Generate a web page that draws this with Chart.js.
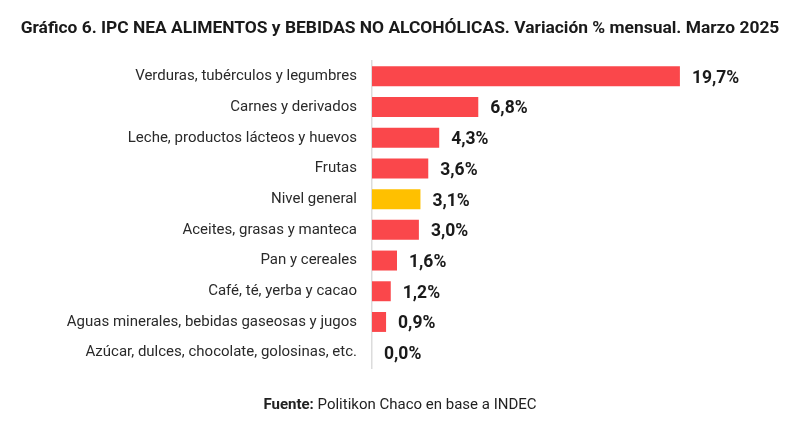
<!DOCTYPE html>
<html>
<head>
<meta charset="utf-8">
<script src="https://cdn.jsdelivr.net/npm/chart.js@4.4.1/dist/chart.umd.min.js"></script>
<style>
  html, body { margin: 0; padding: 0; background: #fff; }
  #wrap { position: relative; width: 800px; height: 428px; }
  #title { position: absolute; left: 0; top: 17px; width: 800px; text-align: center;
    font-family: Roboto, sans-serif; font-weight: bold; font-size: 17.4px; color: #1a1a1a; }
  #source { position: absolute; left: 0; top: 395px; width: 800px; text-align: center;
    font-family: Roboto, sans-serif; font-size: 15px; color: #222; }
</style>
</head>
<body>
<div id="wrap">
  <canvas id="myChart" width="800" height="428"></canvas>
  <div id="title">Gráfico 6. IPC NEA ALIMENTOS y BEBIDAS NO ALCOHÓLICAS. Variación % mensual. Marzo 2025</div>
  <div id="source"><b>Fuente:</b> Politikon Chaco en base a INDEC</div>
</div>
<script>
const categories = [
    "Verduras, tubérculos y legumbres",
    "Carnes y derivados",
    "Leche, productos lácteos y huevos",
    "Frutas",
    "Nivel general",
    "Aceites, grasas y manteca",
    "Pan y cereales",
    "Café, té, yerba y cacao",
    "Aguas minerales, bebidas gaseosas y jugos",
    "Azúcar, dulces, chocolate, golosinas, etc."
];
const values = [19.7, 6.8, 4.3, 3.6, 3.1, 3.0, 1.6, 1.2, 0.9, 0.0];

const red = "#fa474b";
const yellow = "#ffc000";

// colour each bar, the general level stands out
let barColors = categories.map(c => c == "Nivel general" ? yellow : red);

//draws "19,7%" next to each bar
const valueLabels = {
    id: 'valueLabels',
    afterDatasetsDraw(chart) {
        const ctx = chart.ctx;
        const meta = chart.getDatasetMeta(0);
        ctx.save();
        ctx.font = "bold 17.5px Roboto, sans-serif";
        ctx.fillStyle = "#1a1a1a";
        ctx.textBaseline = "middle";
        ctx.textAlign = "left";
        meta.data.forEach((bar, i) => {
            let txt = values[i].toFixed(1).replace(".", ",") + "%";
            ctx.fillText(txt, bar.x + 12, bar.y + 2);
        });
        ctx.restore();
    }
};

const chart = new Chart("myChart", {
    type: "bar",
    data: {
        labels: categories,
        datasets: [{
            data: values,
            backgroundColor: barColors,
            categoryPercentage: 1,
            barPercentage: 0.65
        }]
    },
    options: {
        indexAxis: 'y',
        responsive: false,
        animation: false,
        layout: {
            padding: { top: 61, bottom: 60, left: 0, right: 6 }
        },
        plugins: {
            legend: { display: false },
            tooltip: { enabled: false }
        },
        scales: {
            x: {
                display: false,
                min: 0,
                max: 27
            },
            y: {
                grid: { display: false, drawTicks: false },
                border: { display: true, color: "#dcdcdc", width: 1.5 },
                ticks: {
                    color: "#2a2a2a",
                    padding: 15,
                    font: { family: "Roboto, sans-serif", size: 15 }
                },
                afterFit: function(scale) {
                    scale.width = 372;
                }
            }
        }
    },
    plugins: [valueLabels]
});
</script>
</body>
</html>
